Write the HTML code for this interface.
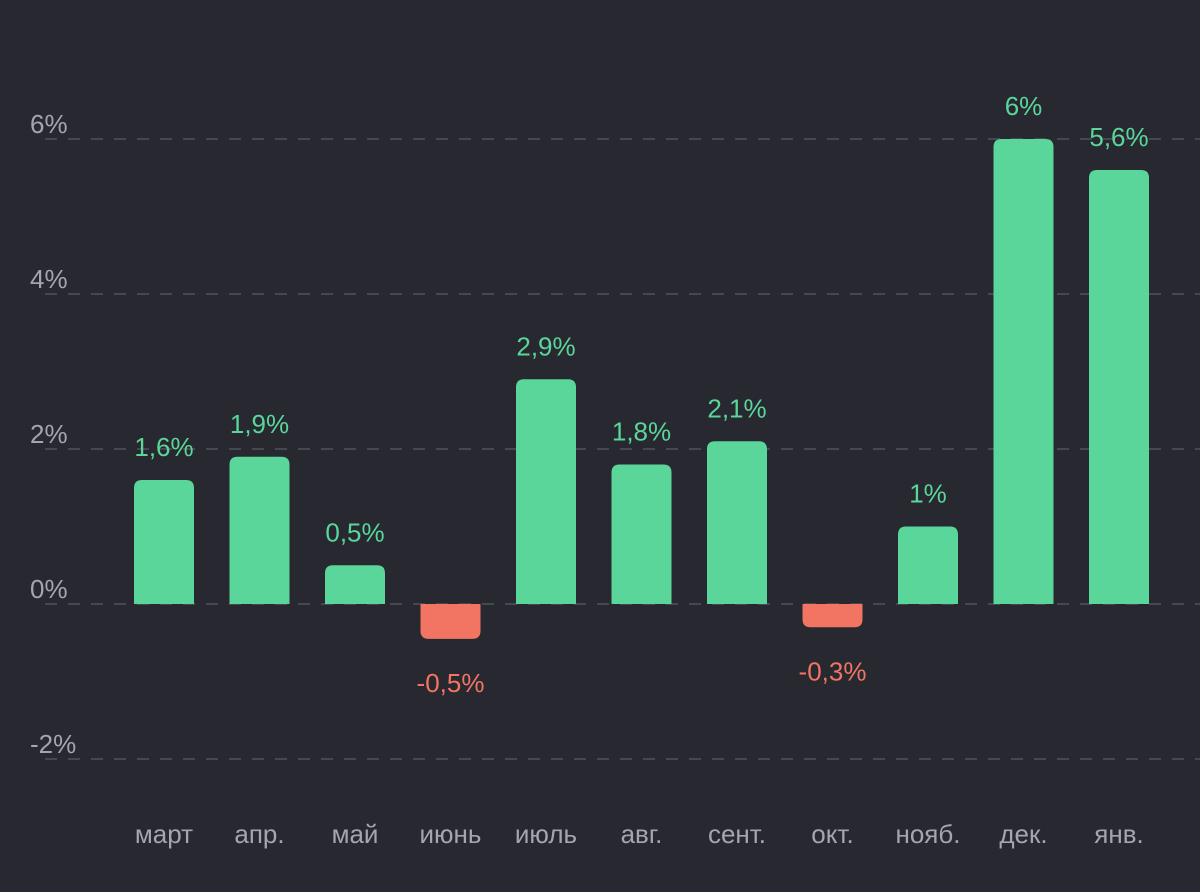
<!DOCTYPE html>
<html><head><meta charset="utf-8"><style>
html,body{margin:0;padding:0;background:#272830;}
svg{display:block;font-family:"Liberation Sans",Roboto,sans-serif;}
</style></head><body>
<svg id="chart" width="1200" height="892" viewBox="0 0 1200 892">
<rect width="1200" height="892" fill="#272830"/>
<g id="grid"></g><g id="bars"></g><g id="labels"></g>
</svg>
<script>
const categories=["март","апр.","май","июнь","июль","авг.","сент.","окт.","нояб.","дек.","янв."];
const values=[1.6,1.9,0.5,-0.45,2.9,1.8,2.1,-0.3,1,6,5.6];
const valueLabels=["1,6%","1,9%","0,5%","-0,5%","2,9%","1,8%","2,1%","-0,3%","1%","6%","5,6%"];
const yTicks=[-2,0,2,4,6];
const yTickLabels=["-2%","0%","2%","4%","6%"];
const NS="http://www.w3.org/2000/svg";
const y=v=>604-v*77.5;
const x=i=>164+i*95.5;
const bw=60,r=8;
function mk(t,a,p){const e=document.createElementNS(NS,t);for(const k in a)e.setAttribute(k,a[k]);p.appendChild(e);return e;}
const grid=document.getElementById('grid'),bars=document.getElementById('bars'),labels=document.getElementById('labels');
yTicks.forEach((t,i)=>{
 const l=mk('line',{x1:45,x2:1200,y1:y(t),y2:y(t),stroke:'#464851','stroke-width':2,'stroke-dasharray':'12 11'},grid);
 
 
 const tx=mk('text',{x:30,y:y(t)-6,fill:'#A3A6AE','font-size':26},grid);
 tx.textContent=yTickLabels[i];
 
 
});
values.forEach((v,i)=>{
 const cx=x(i),x0=cx-bw/2,pos=v>=0,col=pos?'#5AD69A':'#F27563';
 const top=y(Math.max(v,0)),bot=y(Math.min(v,0)),h=bot-top,rr=Math.min(r,h);
 let d;
 if(pos) d=`M${x0},${bot}V${top+rr}Q${x0},${top} ${x0+rr},${top}H${x0+bw-rr}Q${x0+bw},${top} ${x0+bw},${top+rr}V${bot}Z`;
 else d=`M${x0},${top}V${bot-rr}Q${x0},${bot} ${x0+rr},${bot}H${x0+bw-rr}Q${x0+bw},${bot} ${x0+bw},${bot-rr}V${top}Z`;
 const b=mk('path',{d:d,fill:col},bars);
 
 
 const vl=mk('text',{x:cx,y:pos?top-24:bot+53,fill:col,'font-size':26,'text-anchor':'middle'},labels);
 vl.textContent=valueLabels[i];
 
 
 const cl=mk('text',{x:cx,y:843,fill:'#A3A6AE','font-size':26,'text-anchor':'middle'},labels);
 cl.textContent=categories[i];
 
 
});
</script>
</body></html>
